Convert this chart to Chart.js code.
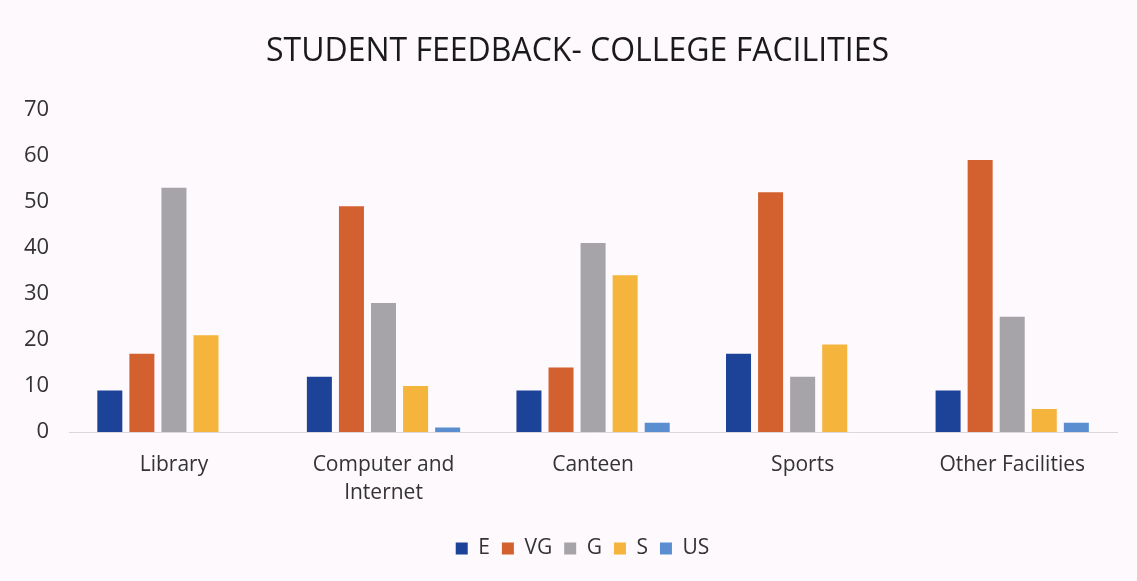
<!DOCTYPE html>
<html>
<head>
<meta charset="utf-8">
<script src="https://cdn.jsdelivr.net/npm/chart.js@4"></script>
<style>
  html, body { margin: 0; padding: 0; background: #fdf9fc; }
  canvas { display: block; }
</style>
</head>
<body>
<canvas id="chart" width="1137" height="581"></canvas>
<script>
const categories = ["Library", ["Computer and", "Internet"], "Canteen", "Sports", "Other Facilities"];
const seriesNames = ["E", "VG", "G", "S", "US"];
const valuesE = [9, 12, 9, 17, 9];
const valuesVG = [17, 49, 14, 52, 59];
const valuesG = [53, 28, 41, 12, 25];
const valuesS = [21, 10, 34, 19, 5];
const valuesUS = [0, 1, 2, 0, 2];
const yTicks = [0, 10, 20, 30, 40, 50, 60, 70];

const colors = ["#1d4399", "#d3612f", "#a6a4a9", "#f5b43b", "#5b8ed0"];
const allValues = [valuesE, valuesVG, valuesG, valuesS, valuesUS];

const font = "'Open Sans', 'Noto Sans', sans-serif";

// nudge title and legend a little to the right, like the original
const boxShift = {
  id: "boxShift",
  afterLayout(chart) {
    if (chart.titleBlock) {
      chart.titleBlock.left += 17;
      chart.titleBlock.right += 17;
    }
    if (chart.legend) {
      chart.legend.left += 22;
      chart.legend.right += 22;
    }
  },
};

const ctx = document.getElementById("chart").getContext("2d");
new Chart(ctx, {
  type: "bar",
  data: {
    labels: categories,
    datasets: seriesNames.map((name, i) => ({
      label: name,
      data: allValues[i],
      backgroundColor: colors[i],
      categoryPercentage: 0.765,
      barPercentage: 0.78,
    })),
  },
  options: {
    responsive: false,
    animation: false,
    layout: {
      padding: { left: 4, right: 20, top: 20, bottom: 12 },
    },
    plugins: {
      title: {
        display: true,
        text: "STUDENT FEEDBACK- COLLEGE FACILITIES",
        color: "#1a1a1a",
        font: { family: font, size: 32, weight: "normal" },
        padding: { top: 13, bottom: 38 },
      },
      legend: {
        position: "bottom",
        labels: {
          color: "#333",
          boxWidth: 12,
          boxHeight: 12,
          padding: 12,
          font: { family: font, size: 21 },
        },
      },
      tooltip: { enabled: false },
    },
    scales: {
      x: {
        grid: { display: false, drawTicks: false },
        border: { color: "#d9d9d9" },
        ticks: {
          color: "#333",
          padding: 19,
          maxRotation: 0,
          font: { family: font, size: 21, lineHeight: 1.333 },
        },
      },
      y: {
        min: 0,
        max: 70,
        afterBuildTicks: (axis) => {
          axis.ticks = yTicks.map((v) => ({ value: v }));
        },
        grid: { display: false, drawTicks: false },
        border: { display: false },
        ticks: {
          color: "#333",
          padding: 20,
          font: { family: font, size: 22 },
        },
      },
    },
  },
  plugins: [boxShift],
});
</script>
</body>
</html>
